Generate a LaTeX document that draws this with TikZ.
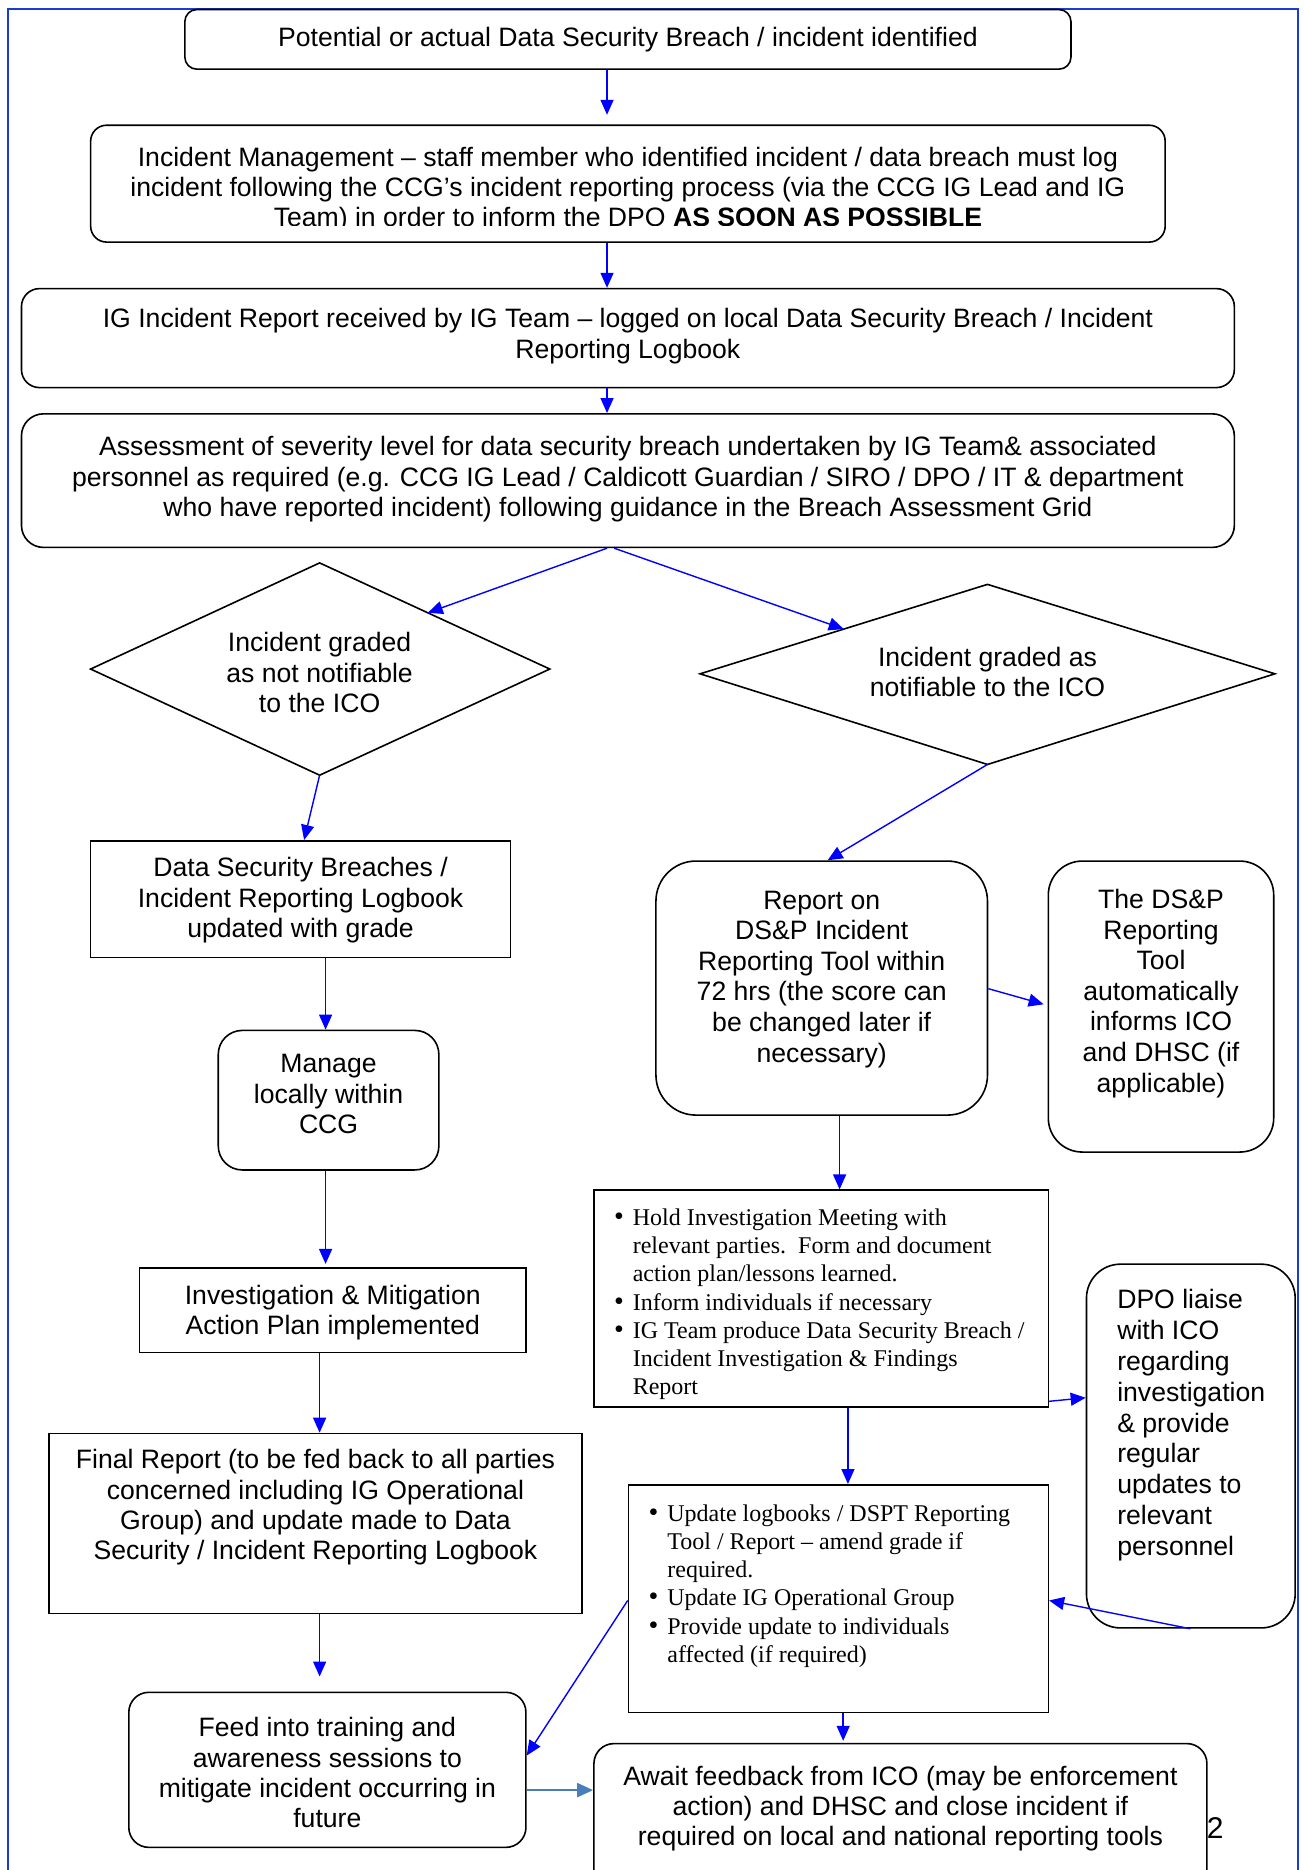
\documentclass[tikz,border=0pt]{standalone}
\usepackage{fontspec}
\setmainfont{Liberation Sans}
\newfontfamily\seriffont{Liberation Serif}
\usetikzlibrary{arrows.meta,calc,fit}
\definecolor{framecol}{RGB}{25,60,210}
\definecolor{arrblue}{RGB}{0,0,255}
\definecolor{steel}{RGB}{74,126,187}
\newcommand\bigbul{{\fontsize{14}{14.1}\selectfont\textbullet}}
\tikzset{
  box/.style={draw=black, line width=0.8pt, inner sep=0pt},
  rbox/.style={box, rounded corners=#1},
  outline/.style={draw=black, line width=0.8pt},
  txt/.style={font=\fontsize{13.3}{15.2}\selectfont, align=center, inner sep=0pt},
  stxt/.style={font=\seriffont\fontsize{12}{14.1}\selectfont, inner sep=0pt, anchor=base west},
  arr/.style={draw=arrblue, line width=0.7pt, -{Triangle[length=7.5pt,width=6.5pt]}},
  sarr/.style={draw=steel, line width=1.2pt, -{Triangle[length=8pt,width=7pt]}},
}
\begin{document}
\begin{tikzpicture}[x=0.5961pt,y=-0.5961pt]
\useasboundingbox (0,0) rectangle (1093,1568);

% frame
\draw[framecol, line width=1pt] (6.5,1575) -- (6.5,7.5) -- (1088,7.5) -- (1088,1575);

% top boxes
\node[rbox=6pt, fit={(155,8)(898,58)}] (b1) {};
\node[txt] (t1) at (526.5,33) {Potential or actual Data Security Breach / incident identified};

\node[rbox=8pt, fit={(76,105)(977,203)}] (b2) {};
\begin{scope}
\clip (76,105) rectangle (977,188.8);
\node[txt, font=\fontsize{13.3}{14.9}\selectfont] (t2) at (526.5,159) {Incident Management – staff member who identified incident / data breach must log\\incident following the CCG’s incident reporting process (via the CCG IG Lead and IG\\Team) in order to inform the DPO \textbf{AS SOON AS POSSIBLE}};
\end{scope}

\node[rbox=9pt, fit={(18,242)(1035,325)}] (b3) {};
\node[txt] (t3) at (526.5,282) {IG Incident Report received by IG Team – logged on local Data Security Breach / Incident\\Reporting Logbook};

\node[rbox=11pt, fit={(18,347)(1035,459)}] (b4) {};
\node[txt] (t4) at (526.5,402) {Assessment of severity level for data security breach undertaken by IG Team\& associated\\personnel as required (e.g. CCG IG Lead / Caldicott Guardian / SIRO / DPO / IT \& department\\who have reported incident) following guidance in the Breach Assessment Grid};

% diamonds
\coordinate (dLl) at (76,561);
\coordinate (dLt) at (268,472);
\coordinate (dLr) at (461,561);
\coordinate (dLb) at (268,650);
\draw[outline] (dLl) -- (dLt) -- (dLr) -- (dLb) -- cycle;
\node[txt] (dLtext) at (268,564) {Incident graded\\as not notifiable\\to the ICO};

\coordinate (dRl) at (587,565);
\coordinate (dRt) at (828,490);
\coordinate (dRr) at (1069,565);
\coordinate (dRb) at (828,641);
\draw[outline] (dRl) -- (dRt) -- (dRr) -- (dRb) -- cycle;
\node[txt] (dRtext) at (828,563.5) {Incident graded as\\notifiable to the ICO};

% left column
\node[box, fit={(76,705)(428,803)}] (b5) {};
\node[txt] (t5) at (252,755) {Data Security Breaches /\\Incident Reporting Logbook\\updated with grade};

\node[rbox=12pt, fit={(183,864)(368,981)}] (b6) {};
\node[txt] (t6) at (275.5,917.5) {Manage\\locally within\\CCG};

\node[box, fit={(117,1063)(441,1134)}] (b7) {};
\node[txt] (t7) at (279,1100.5) {Investigation \& Mitigation\\Action Plan implemented};

\node[box, fit={(41,1202)(488,1353)}] (b8) {};
\node[txt] (t8) at (264.5,1264) {Final Report (to be fed back to all parties\\concerned including IG Operational\\Group) and update made to Data\\Security / Incident Reporting Logbook};

\node[rbox=10pt, fit={(108,1419)(441,1549)}] (b9) {};
\node[txt] (t9) at (274.5,1486.5) {Feed into training and\\awareness sessions to\\mitigate incident occurring in\\future};

\node[rbox=10pt, fit={(498,1462)(1012,1600)}] (b10) {};
\node[txt] (t10) at (755,1516.5) {Await feedback from ICO (may be enforcement\\action) and DHSC and close incident if\\required on local and national reporting tools};

% right column
\node[rbox=20pt, fit={(550,722)(828,935)}] (bRep) {};
\node[txt, font=\fontsize{13.3}{15.3}\selectfont] (tRep) at (689,821) {Report on\\DS\&P Incident\\Reporting Tool within\\72 hrs (the score can\\be changed later if\\necessary)};

\node[rbox=17pt, fit={(879,722)(1068,966)}] (bDSP) {};
\node[txt, font=\fontsize{13.3}{15.3}\selectfont] (tDSP) at (973.5,833) {The DS\&P\\Reporting\\Tool\\automatically\\informs ICO\\and DHSC (if\\applicable)};

\node[box, fit={(498,998)(879,1180)}] (bHold) {};
\node[stxt] (tHold) at (514.5,1027.5) {\begin{tabular}[t]{@{}l@{\hspace{4.5pt}}l@{}}
\bigbul & Hold Investigation Meeting with\\
 & relevant parties.\ \ Form and document\\
 & action plan/lessons learned.\\
\bigbul & Inform individuals if necessary\\
\bigbul & IG Team produce Data Security Breach /\\
 & Incident Investigation \& Findings\\
 & Report
\end{tabular}};

\node[rbox=17pt, fit={(911,1060)(1086,1365)}] (bDPO) {};
\node[txt, font=\fontsize{13.3}{15.4}\selectfont, align=left, anchor=west] (tDPO) at (936.5,1195) {DPO liaise\\with ICO\\regarding\\investigation\\\& provide\\regular\\updates to\\relevant\\personnel};

\node[box, fit={(527,1245)(879,1436)}] (bUpd) {};
\node[stxt] (tUpd) at (543.5,1275.5) {\begin{tabular}[t]{@{}l@{\hspace{4.5pt}}l@{}}
\bigbul & Update logbooks / DSPT Reporting\\
 & Tool / Report – amend grade if\\
 & required.\\
\bigbul & Update IG Operational Group\\
\bigbul & Provide update to individuals\\
 & affected (if required)
\end{tabular}};

\node[font=\fontsize{15}{18}\selectfont, inner sep=0pt] (pg) at (1019,1533) {2};

% connectors
\draw[arr, shorten >=4.8pt] (b1.south -| 509,0) -- (b2.north -| 509,0);
\draw[arr] (b2.south -| 509,0) -- (b3.north -| 509,0);
\draw[arr] (b3.south -| 509,0) -- (b4.north -| 509,0);
\draw[arr] (b4.south -| 509,0) -- ($(dLt)!0.47!(dLr)$);
\draw[arr] (b4.south -| 515,0) -- ($(dRl)!0.5!(dRt)$);
\draw[arr] (dLb) -- (b5.north -| 255,0);
\draw[arr] (dRb) -- (bRep.north -| 694,0);
\draw[arr] (b5.south -| 273,0) -- (b6.north -| 273,0);
\draw[arr, shorten >=1.5pt] (b6.south -| 273,0) -- (b7.north -| 273,0);
\draw[arr] (b7.south -| 268,0) -- (b8.north -| 268,0);
\draw[arr, shorten >=7.5pt] (b8.south -| 268,0) -- (b9.north -| 268,0);
\draw[sarr] (b9.east |- 0,1501) -- (b10.west |- 0,1501);
\draw[arr, shorten >=2pt] (bRep.east |- 0,829) -- (bDSP.west |- 0,843);
\draw[arr] (bRep.south -| 704,0) -- (bHold.north -| 704,0);
\draw[arr] (bHold.east |- 0,1175) -- (bDPO.west |- 0,1172);
\draw[arr] (bHold.south -| 711,0) -- (bUpd.north -| 711,0);
\draw[arr] (bDPO.south -| 998,0) -- (bUpd.east |- 0,1342);
\draw[arr] (bUpd.west |- 0,1342) -- (b9.east |- 0,1472);
\draw[arr, shorten >=1pt] (bUpd.south -| 707,0) -- (b10.north -| 707,0);
\end{tikzpicture}
\end{document}
